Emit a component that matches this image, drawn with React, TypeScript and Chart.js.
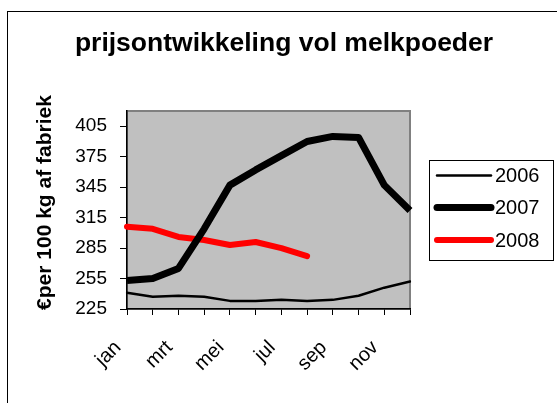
import React, { useEffect, useRef } from "react";
import { Chart, registerables } from "chart.js";

Chart.register(...registerables);

const titleText = "prijsontwikkeling vol melkpoeder";
const yTitle = "€per 100 kg af fabriek";
const months = ["jan", "feb", "mrt", "apr", "mei", "jun", "jul", "aug", "sep", "okt", "nov", "dec"];
const yTicks = [225, 255, 285, 315, 345, 375, 405];
const s2006 = [241, 237, 238, 237, 233, 233, 234, 233, 234, 238, 246, 252];
const s2007 = [253, 255, 265, 304, 347, 362, 376, 390, 395, 394, 347, 322];
const s2008 = [306, 304, 296, 293, 288, 291, 285, 277];
const seriesNames = ["2006", "2007", "2008"];

const FONT = "'Liberation Sans', Arial, sans-serif";

const decorPlugin = {
  id: "decor",
  beforeDraw(chart: any) {
    const { ctx, chartArea } = chart;
    const { left, top, right, bottom } = chartArea;
    ctx.save();
    ctx.strokeStyle = "#000";
    ctx.lineWidth = 1;
    ctx.strokeRect(7.5, 11.5, 700, 500);
    ctx.fillStyle = "#C0C0C0";
    ctx.fillRect(left, top, right - left, bottom - top);
    ctx.strokeStyle = "#808080";
    ctx.lineWidth = 2;
    ctx.strokeRect(left, top, right - left, bottom - top);
    ctx.restore();
  },
  afterDraw(chart: any) {
    const { ctx } = chart;
    ctx.save();
    ctx.fillStyle = "#000";
    ctx.font = `bold 26.5px ${FONT}`;
    ctx.textAlign = "center";
    ctx.textBaseline = "alphabetic";
    ctx.fillText(titleText, 284, 51);
    ctx.save();
    ctx.translate(50.5, 202.5);
    ctx.rotate(-Math.PI / 2);
    ctx.font = `bold 21px ${FONT}`;
    ctx.textAlign = "center";
    ctx.fillText(yTitle, 0, 0);
    ctx.restore();
    ctx.strokeStyle = "#000";
    ctx.lineWidth = 1;
    ctx.strokeRect(429.5, 160.5, 124, 100);
    const ys = [175.5, 207.5, 240];
    chart.data.datasets.forEach((ds: any, i: number) => {
      ctx.beginPath();
      ctx.strokeStyle = ds.borderColor;
      ctx.lineWidth = ds.borderWidth;
      ctx.lineCap = "round";
      ctx.moveTo(437, ys[i]);
      ctx.lineTo(491, ys[i]);
      ctx.stroke();
      ctx.fillStyle = "#000";
      ctx.font = `20px ${FONT}`;
      ctx.textAlign = "left";
      ctx.textBaseline = "middle";
      ctx.fillText(ds.label, 495, ys[i] + 1);
    });
    ctx.restore();
  },
};

export default function App() {
  const ref = useRef<HTMLCanvasElement>(null);
  useEffect(() => {
    if (!ref.current) return;
    Chart.defaults.font.family = FONT;
    const chart = new Chart(ref.current, {
      type: "line",
      data: {
        labels: months,
        datasets: [
          {
            label: seriesNames[0],
            data: s2006,
            borderColor: "#000000",
            borderWidth: 2.5,
            pointRadius: 0,
            tension: 0,
            borderJoinStyle: "round",
            borderCapStyle: "round",
          },
          {
            label: seriesNames[1],
            data: s2007,
            borderColor: "#000000",
            borderWidth: 7,
            pointRadius: 0,
            tension: 0,
            borderJoinStyle: "round",
            borderCapStyle: "butt",
          },
          {
            label: seriesNames[2],
            data: s2008,
            borderColor: "#FF0000",
            borderWidth: 6,
            pointRadius: 0,
            tension: 0,
            borderJoinStyle: "round",
            borderCapStyle: "round",
          },
        ],
      },
      options: {
        responsive: false,
        animation: false,
        devicePixelRatio: 1,
        layout: { padding: { left: 0, top: 111, right: 147, bottom: 0 } },
        plugins: {
          legend: { display: false },
          title: { display: false },
          tooltip: { enabled: false },
        },
        scales: {
          x: {
            type: "category",
            offset: false,
            grid: {
              display: true,
              drawOnChartArea: false,
              drawTicks: true,
              tickLength: 6,
              color: "#000",
              lineWidth: 1,
            },
            border: { display: true, color: "#000", width: 1.5 },
            ticks: {
              autoSkip: false,
              minRotation: 45,
              maxRotation: 45,
              padding: 21,
              labelOffset: -9,
              color: "#000",
              font: { size: 20, family: FONT },
              callback: (_v: any, i: number) => (i % 2 === 0 ? months[i] : ""),
            },
            afterFit: (s: any) => {
              s.height = 94;
            },
          },
          y: {
            type: "linear",
            min: 225,
            max: 420,
            grid: {
              display: true,
              drawOnChartArea: false,
              drawTicks: true,
              tickLength: 7,
              color: "#000",
              lineWidth: 1,
            },
            border: { display: true, color: "#000", width: 1.5 },
            ticks: {
              color: "#000",
              padding: 13,
              font: { size: 19, family: FONT },
            },
            afterBuildTicks: (s: any) => {
              s.ticks = yTicks.map((v) => ({ value: v }));
            },
            afterFit: (s: any) => {
              s.width = 127;
            },
          },
        },
      },
      plugins: [decorPlugin],
    });
    return () => chart.destroy();
  }, []);
  return (
    <div style={{ position: "absolute", left: 0, top: 0, width: 557, height: 403, background: "#fff" }}>
      <canvas ref={ref} width={557} height={403} style={{ width: 557, height: 403, display: "block" }} />
    </div>
  );
}
